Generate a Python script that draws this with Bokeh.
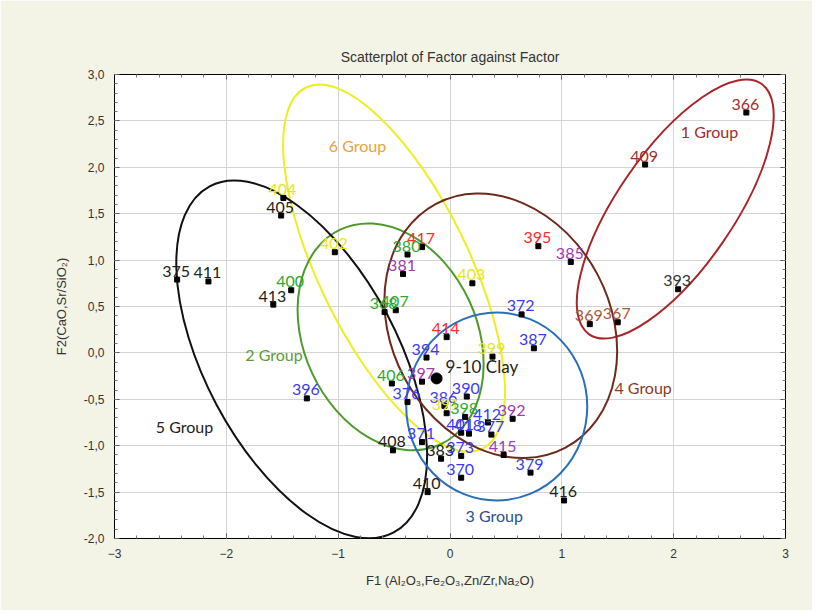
from bokeh.plotting import figure
from bokeh.models import Range1d, FixedTicker, LinearAxis, CustomJSTickFormatter, ColumnDataSource
from bokeh.core.properties import value
from bokeh.embed import file_html
from bokeh.resources import INLINE
import math

# ---- sample scores (F1, F2) ----
sample_ids = ["366", "409", "393", "369", "367", "385", "395", "417", "380", "381",
              "403", "402", "405", "404", "375", "411", "400", "413", "368", "407",
              "372", "414", "387", "394", "399", "397", "406", "376", "396", "390",
              "386", "391", "398", "412", "392", "401", "418", "377", "371", "408",
              "383", "373", "415", "379", "370", "410", "416"]
f1 = [2.65, 1.745, 2.04, 1.25, 1.50, 1.08, 0.79, -0.25, -0.38, -0.42,
      0.20, -1.03, -1.51, -1.49, -2.44, -2.16, -1.42, -1.58, -0.585, -0.485,
      0.64, -0.03, 0.75, -0.21, 0.38, -0.25, -0.52, -0.38, -1.28, 0.15,
      -0.05, -0.03, 0.135, 0.34, 0.56, 0.10, 0.17, 0.37, -0.25, -0.51,
      -0.08, 0.10, 0.48, 0.72, 0.10, -0.20, 1.02]
f2 = [2.59, 2.03, 0.686, 0.31, 0.33, 0.98, 1.15, 1.14, 1.06, 0.85,
      0.75, 1.085, 1.48, 1.67, 0.79, 0.77, 0.675, 0.52, 0.44, 0.46,
      0.415, 0.17, 0.05, -0.05, -0.04, -0.31, -0.33, -0.53, -0.49, -0.47,
      -0.57, -0.65, -0.69, -0.75, -0.71, -0.86, -0.87, -0.88, -0.96, -1.05,
      -1.14, -1.11, -1.10, -1.29, -1.345, -1.50, -1.59]
label_colors = ["#9e2f30", "#9e2f30", "#333333", "#a8583a", "#a8583a", "#a03ab0", "#ff2a2a", "#ff2a2a", "#2fa82f", "#a03ab0",
                "#e6e61a", "#e6e61a", "#222222", "#e6e61a", "#222222", "#222222", "#2fa82f", "#222222", "#2fa82f", "#2fa82f",
                "#3a3af0", "#ff2a2a", "#3a3af0", "#3a3af0", "#e6e61a", "#a03ab0", "#2fa82f", "#3a3af0", "#3a3af0", "#3a3af0",
                "#3a3af0", "#e6e61a", "#2fa82f", "#3a3af0", "#a03ab0", "#3a3af0", "#3a3af0", "#3a3af0", "#3a3af0", "#222222",
                "#222222", "#3a3af0", "#a03ab0", "#3a3af0", "#3a3af0", "#222222", "#222222"]

clay_name = ["9-10 Clay"]
clay_f1 = [-0.12]
clay_f2 = [-0.275]

# ---- group ellipses ----
group_names = ["1 Group", "6 Group", "2 Group", "5 Group", "4 Group", "3 Group"]
group_cx = [2.014, -0.50, -0.531, -1.326, 0.454, 0.418]
group_cy = [1.55, 0.913, 0.173, -0.07, 0.292, -0.578]
group_major_px = [304, 402, 237, 392, 276, 181]
group_minor_px = [116, 150, 173, 193, 219, 188]
group_angle_deg = [55.5, 116, 115, 118, 118, 0]
group_line_colors = ["#a8262a", "#eeee22", "#4f9a2c", "#111111", "#6e2a1a", "#2a6fba"]
group_label_x = [2.32, -0.827, -1.574, -2.374, 1.727, 0.396]
group_label_y = [2.39, 2.23, -0.016, -0.794, -0.373, -1.755]
group_label_colors = ["#a52a2a", "#e8a33c", "#5b9b35", "#222222", "#8b3a2a", "#2a4f8f"]

x_ticks = [-3, -2, -1, 0, 1, 2, 3]
y_ticks = [-2.0, -1.5, -1.0, -0.5, 0.0, 0.5, 1.0, 1.5, 2.0, 2.5, 3.0]
x_minor = [x / 5 for x in range(-15, 16)]
y_minor = [y / 10 for y in range(-20, 31)]

p = figure(width=812, height=610, x_range=Range1d(-3, 3), y_range=Range1d(-2, 3),
           output_backend="svg", toolbar_location=None,
           min_border_left=114, min_border_right=27, min_border_top=74, min_border_bottom=72,
           background_fill_color="white", border_fill_color="#f3f3e6",
           outline_line_color="black", outline_line_width=1)

p.title.text = "Scatterplot of Factor against Factor"
p.title.align = "center"
p.title.text_font = "Liberation Sans"
p.title.text_font_size = "14px"
p.title.text_font_style = "normal"
p.title.text_color = "#333333"
p.title.standoff = 20

fmt_y = CustomJSTickFormatter(code="return tick.toFixed(1).replace('.', ',');")

for ax in p.xaxis:
    ax.ticker = FixedTicker(ticks=x_ticks, minor_ticks=x_minor)
for ax in p.yaxis:
    ax.ticker = FixedTicker(ticks=y_ticks, minor_ticks=y_minor)
    ax.formatter = fmt_y

for ax in p.xaxis + p.yaxis:
    ax.major_tick_in = 5
    ax.major_tick_out = 0
    ax.minor_tick_in = 3
    ax.minor_tick_out = 0
    ax.axis_line_color = "black"
    ax.major_tick_line_color = "#555555"
    ax.minor_tick_line_color = "#777777"
    ax.major_label_text_font = "Liberation Sans"
    ax.major_label_text_font_size = "12px"
    ax.major_label_text_color = "#333333"
    ax.major_label_standoff = 10
    ax.axis_label_text_font = "Liberation Sans"
    ax.axis_label_text_font_size = "13px"
    ax.axis_label_text_font_style = "normal"
    ax.axis_label_text_color = "#333333"
    ax.axis_label_standoff = 12

p.xaxis.axis_label = "F1 (Al\u2082O\u2083,Fe\u2082O\u2083,Zn/Zr,Na\u2082O)"
p.yaxis.axis_label = "F2(CaO,Sr/SiO\u2082)"

blank = CustomJSTickFormatter(code="return '';")
top_ax = LinearAxis(ticker=FixedTicker(ticks=x_ticks, minor_ticks=x_minor), formatter=blank,
                    major_tick_in=5, major_tick_out=0, minor_tick_in=3, minor_tick_out=0,
                    major_label_standoff=0, major_tick_line_color="#555555", minor_tick_line_color="#777777")
right_ax = LinearAxis(ticker=FixedTicker(ticks=y_ticks, minor_ticks=y_minor), formatter=blank,
                      major_tick_in=5, major_tick_out=0, minor_tick_in=3, minor_tick_out=0,
                      major_label_standoff=0, major_tick_line_color="#555555", minor_tick_line_color="#777777")
p.add_layout(top_ax, "above")
p.add_layout(right_ax, "right")

p.xgrid.ticker = FixedTicker(ticks=x_ticks)
p.ygrid.ticker = FixedTicker(ticks=y_ticks)
p.xgrid.grid_line_color = "#d4d4d4"
p.ygrid.grid_line_color = "#d4d4d4"

# ellipses
esrc = ColumnDataSource(dict(x=group_cx, y=group_cy, w=group_major_px, h=group_minor_px,
                             a=[math.radians(d) for d in group_angle_deg], c=group_line_colors))
p.ellipse(x="x", y="y", width="w", height="h", angle="a", width_units="screen",
          height_units="screen", fill_color=None, line_color="c", line_width=2, source=esrc)

# points
src = ColumnDataSource(dict(x=f1, y=f2, t=sample_ids, c=label_colors))
p.scatter(x="x", y="y", marker="square", size=5, color="black", source=src)
p.text(x="x", y="y", text="t", text_color="c", source=src, text_font=value("Lato"),
       text_font_size="16px", text_align="center", text_baseline="bottom",
       x_offset=-1, y_offset=-3)

# clay
p.scatter(x=clay_f1, y=clay_f2, marker="circle", size=11, color="black")
p.text(x=clay_f1, y=clay_f2, text=clay_name, text_color="#222222", text_font=value("Lato"),
       text_font_size="17px", text_align="left", text_baseline="middle", x_offset=9, y_offset=-12)

# group labels
p.text(x=group_label_x, y=group_label_y, text=group_names, text_color=group_label_colors,
       text_font=value("Lato"), text_font_size="16px", text_align="center", text_baseline="middle")

open("out.html", "w").write(file_html(p, INLINE))
